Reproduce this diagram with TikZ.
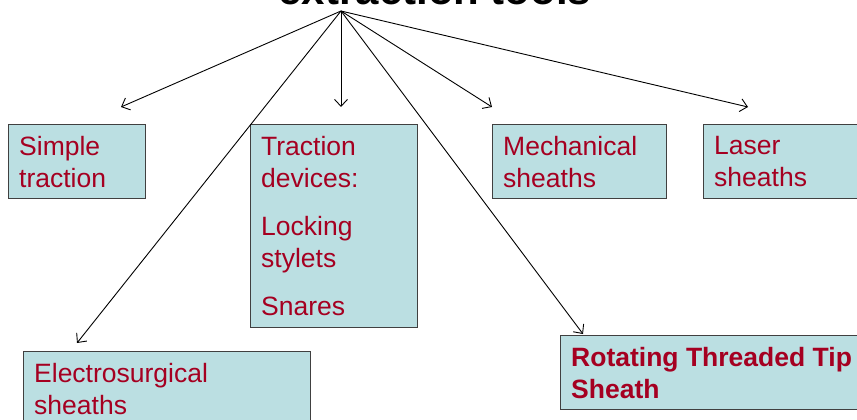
\documentclass[tikz,border=0pt]{standalone}
\usepackage{fontspec}
\setmainfont{Liberation Sans}
\usetikzlibrary{arrows.meta,positioning}
\definecolor{boxfill}{RGB}{187,223,226}
\definecolor{boxtext}{RGB}{165,0,33}
\definecolor{boxline}{RGB}{64,64,64}

\begin{document}
\begin{tikzpicture}[x=1pt,y=-1pt,
    tbox/.style={draw=boxline,fill=boxfill,line width=0.9pt,anchor=north west,inner sep=0pt},
    ttext/.style={anchor=north west,align=left,text=boxtext,inner xsep=11pt,inner ysep=12pt,font=\fontsize{26.5}{32}\selectfont},
    link/.style={-{Straight Barb[length=7pt,width=13pt]},line width=0.9pt}]
    \useasboundingbox (0,0) rectangle (857,420);
    % title and hub
    \node[font=\bfseries\fontsize{42}{50}\selectfont,anchor=base] (title) at (435,5) {extraction tools};
    \coordinate (hub) at (341,11);
    % boxes
    \node[tbox,minimum width=137pt,minimum height=74pt] (simple) at (8,124) {};
    \node[tbox,minimum width=167pt,minimum height=203pt] (traction) at (250,124) {};
    \node[tbox,minimum width=174pt,minimum height=74pt] (mech) at (492,124) {};
    \node[tbox,minimum width=174pt,minimum height=74pt] (laser) at (703,124) {};
    \node[tbox,minimum width=287pt,minimum height=90pt] (electro) at (23,351) {};
    \node[tbox,minimum width=320pt,minimum height=74pt] (rotate) at (560,335) {};
    % texts
    \node[ttext] (simple-t) at (simple.north west) {Simple\\traction};
    \node[ttext] (traction-t) at (traction.north west) {Traction\\devices:\\[16pt]Locking\\stylets\\[16pt]Snares};
    \node[ttext] (mech-t) at (mech.north west) {Mechanical\\sheaths};
    \node[ttext] (laser-t) at (laser.north west) {Laser\\sheaths};
    \node[ttext] (electro-t) at (electro.north west) {Electrosurgical\\sheaths};
    \node[ttext,font=\bfseries\fontsize{26.5}{32}\selectfont] (rotate-t) at (rotate.north west) {Rotating Threaded Tip\\Sheath};
    % arrow ends
    \coordinate (simple-in) at (121,107);
    \coordinate (traction-in) at (341,107);
    \coordinate (mech-in) at (492,107);
    \coordinate (laser-in) at (748,107);
    \coordinate (electro-in) at (77,343);
    \coordinate (rotate-in) at (583,334);
    \foreach \t in {simple,traction,mech,laser,electro,rotate}
        \draw[link] (hub) -- (\t-in);
\end{tikzpicture}
\end{document}
